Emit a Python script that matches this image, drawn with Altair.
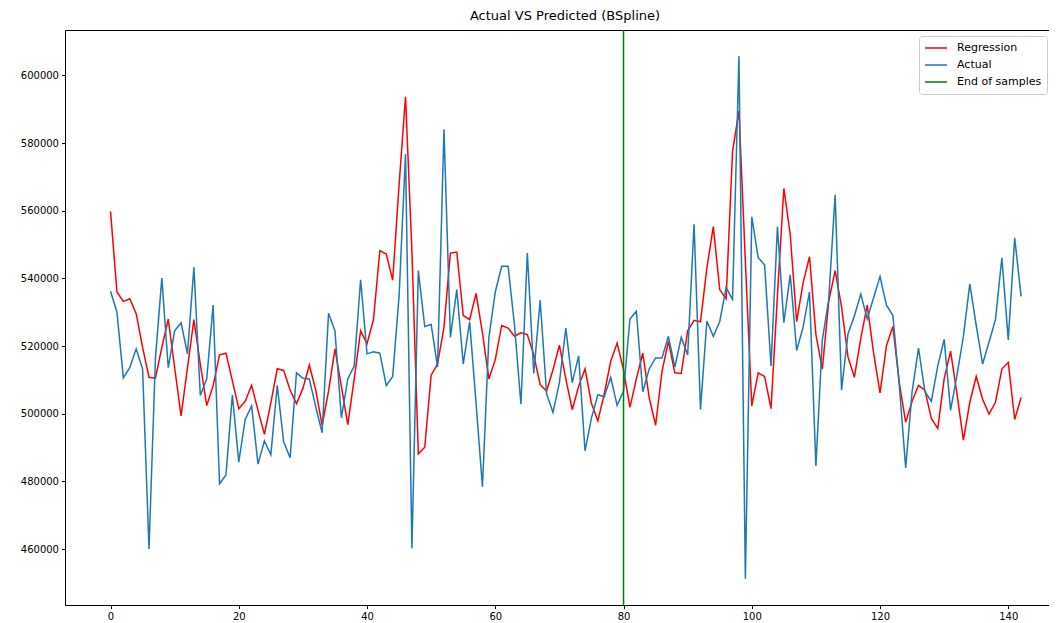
import altair as alt
import pandas as pd

# ---- data ----
x_index = list(range(143))

regression = [
    559800, 536000, 533200, 534000, 529600, 519600, 510800, 510500, 519600, 528000,
    513600, 499400, 513600, 527800, 514700, 502400, 508300, 517400, 517900, 509700,
    501500, 503700, 508400, 501000, 493900, 503200, 513300, 512800, 507000, 503000,
    507500, 514400, 507000, 496600, 506700, 519200, 508100, 496800, 510300, 524500,
    520700, 527800, 548200, 547200, 539500, 567700, 593700, 548000, 488100, 490100,
    511400, 514700, 525600, 547500, 547800, 529100, 527800, 535600, 523900, 510300,
    516000, 526100, 525300, 522900, 523900, 523400, 517400, 508600, 506700, 513000,
    520300, 510300, 501200, 508100, 513300, 503000, 497900, 505900, 515500, 520900,
    513000, 501900, 510300, 517900, 504800, 496600, 512500, 521400, 512100, 511900,
    524500, 527600, 527200, 543100, 555300, 536700, 534000, 577500, 589500, 545000,
    502300, 512100, 511000, 501500, 535000, 566600, 552900, 527200, 538700, 546400,
    523400, 513200, 533200, 542300, 531600, 516800, 510800, 522300, 532100, 517900,
    506200, 520100, 525800, 509200, 497500, 503700, 508400, 507000, 498600, 495700,
    510300, 518500, 505900, 492200, 503400, 511000, 504300, 499900, 503400, 513200,
    515200, 498300, 504800,
]

actual = [
    536200, 530000, 510600, 513600, 519200, 513200, 460000, 516300, 540100, 513600,
    524500, 526900, 517700, 543300, 505400, 510300, 532100, 479300, 481900, 505600,
    485700, 498300, 502300, 485100, 492000, 487900, 508400, 491700, 487000, 512100,
    510500, 510300, 502100, 494400, 529700, 524500, 498800, 510300, 514100, 539600,
    517700, 518300, 517900, 508300, 511000, 534900, 576800, 460200, 542300, 525800,
    526400, 513800, 584100, 522600, 536700, 514700, 527200, 503200, 478400, 522500,
    536000, 543600, 543600, 526100, 502800, 547500, 511900, 533500, 505900, 500400,
    509200, 525300, 509200, 517100, 489000, 498800, 505600, 505000, 510800, 502500,
    506700, 528000, 530300, 506500, 513200, 516500, 516500, 522900, 513800, 522600,
    517400, 556000, 501300, 527400, 522900, 527200, 537300, 533800, 605700, 451200,
    558200, 546100, 544000, 514100, 555300, 526900, 541100, 518700, 525600, 536000,
    484600, 521800, 533800, 564700, 507000, 523600, 528900, 535400, 528000, 534300,
    540600, 532100, 529100, 508600, 484000, 506500, 519400, 506500, 503700, 514100,
    522000, 501000, 511400, 522900, 538400, 526100, 514700, 521200, 527800, 546100,
    521800, 552000, 534700,
]

series_names = ["Regression", "Actual", "End of samples"]
series_colors = ["#ff0000", "#1f77b4", "#008000"]
end_of_samples = [80]
x_ticks = [0, 20, 40, 60, 80, 100, 120, 140]
y_ticks = [460000, 480000, 500000, 520000, 540000, 560000, 580000, 600000]

# ---- tables ----
df = pd.DataFrame({
    "x": x_index + x_index,
    "value": regression + actual,
    "series": ["Regression"] * len(regression) + ["Actual"] * len(actual),
})
rule_df = pd.DataFrame({"x": end_of_samples, "series": ["End of samples"]})

# The original figure's axes run past the right edge of the picture;
# keep its scale and let the visible plot stop at the page edge.
PLOT_W = 984
PLOT_H = 575
PX_PER_UNIT = 6.4125

all_vals = regression + actual
vmin, vmax = min(all_vals), max(all_vals)
ypad = 0.05 * (vmax - vmin)
xmin, xmax = min(x_index), max(x_index)
xpad = 0.05 * (xmax - xmin)
x_lo = xmin - xpad
x_hi = x_lo + PLOT_W / PX_PER_UNIT

x_scale = alt.Scale(domain=[x_lo, x_hi], nice=False, zero=False)
y_scale = alt.Scale(domain=[vmin - ypad, vmax + ypad], nice=False, zero=False)

x_axis = alt.Axis(values=x_ticks, format="d", title=None, orient="bottom")
x_top = alt.Axis(orient="top", labels=False, ticks=False, domain=True, title=None)
y_axis = alt.Axis(values=y_ticks, format="d", title=None)

color = alt.Color(
    "series:N",
    scale=alt.Scale(domain=series_names, range=series_colors),
    legend=alt.Legend(
        title=None,
        orient="none",
        legendX=854,
        legendY=6,
        fillColor="rgba(255,255,255,0.8)",
        strokeColor="#cccccc",
        cornerRadius=3,
        padding=5,
        symbolType="stroke",
        symbolStrokeWidth=1.5,
        symbolSize=484,
        labelFontSize=11,
        labelFont="DejaVu Sans",
        labelColor="black",
        labelOffset=9,
        rowPadding=3,
        clipHeight=14,
    ),
)

base = alt.Chart(df)

reg_line = base.transform_filter(alt.datum.series == "Regression").mark_line(
    strokeWidth=1.5, clip=True
).encode(
    x=alt.X("x:Q", scale=x_scale, axis=x_axis),
    y=alt.Y("value:Q", scale=y_scale, axis=y_axis),
    color=color,
)

act_line = base.transform_filter(alt.datum.series == "Actual").mark_line(
    strokeWidth=1.5, clip=True
).encode(
    x=alt.X("x:Q", scale=x_scale, axis=None),
    y=alt.Y("value:Q", scale=y_scale, axis=y_axis),
    color=color,
)

rule = alt.Chart(rule_df).mark_rule(strokeWidth=1.5).encode(
    x=alt.X("x:Q", scale=x_scale, axis=x_top),
    color=color,
)

chart = alt.layer(reg_line, act_line, rule).resolve_axis(
    x="independent"
).properties(
    width=PLOT_W,
    height=PLOT_H,
    autosize="none",
    padding={"left": 57, "top": 22, "right": 0, "bottom": 18},
    title=alt.TitleParams(
        "Actual VS Predicted (BSpline)",
        fontSize=13,
        fontWeight="normal",
        font="DejaVu Sans",
        color="black",
        anchor="middle",
        offset=6,
        dx=8,
    ),
).configure_view(
    stroke=None
).configure_axis(
    grid=False,
    domainColor="black",
    domainWidth=1,
    tickColor="black",
    tickSize=3.5,
    tickWidth=1,
    labelColor="black",
    labelFontSize=10,
    labelFont="DejaVu Sans",
    labelPadding=3,
)

chart.save("out.html", embed_options={"renderer": "svg", "actions": False})
